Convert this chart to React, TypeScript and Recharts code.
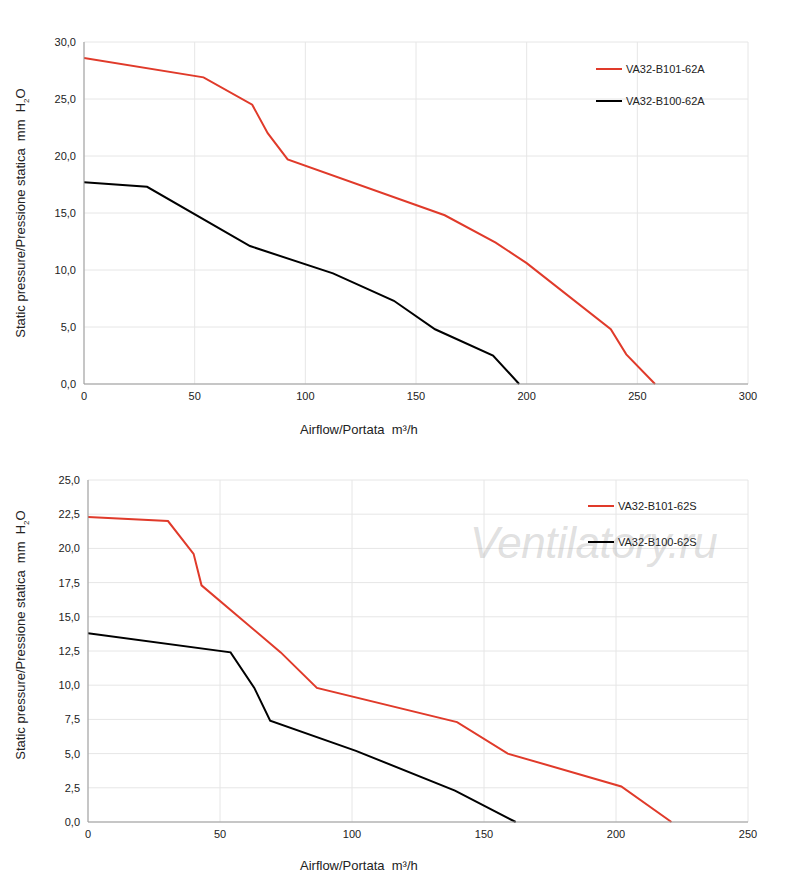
import React from "react";
import { LineChart, Line, XAxis, YAxis, CartesianGrid } from "recharts";

const topRed = [
  { x: 0, y: 28.6 }, { x: 54, y: 26.9 }, { x: 76, y: 24.5 }, { x: 83, y: 22.0 },
  { x: 92, y: 19.7 }, { x: 163, y: 14.8 }, { x: 186, y: 12.4 }, { x: 200, y: 10.6 },
  { x: 238, y: 4.8 }, { x: 245, y: 2.6 }, { x: 258, y: 0 },
];
const topBlack = [
  { x: 0, y: 17.7 }, { x: 28.5, y: 17.3 }, { x: 75, y: 12.1 }, { x: 112.5, y: 9.7 },
  { x: 140, y: 7.3 }, { x: 158.6, y: 4.8 }, { x: 184.8, y: 2.5 }, { x: 196.6, y: 0 },
];
const botRed = [
  { x: 0, y: 22.3 }, { x: 30.3, y: 22.0 }, { x: 40, y: 19.6 }, { x: 43, y: 17.3 },
  { x: 73, y: 12.4 }, { x: 86.7, y: 9.8 }, { x: 139.8, y: 7.3 }, { x: 159, y: 5.0 },
  { x: 202, y: 2.6 }, { x: 221, y: 0 },
];
const botBlack = [
  { x: 0, y: 13.8 }, { x: 54, y: 12.4 }, { x: 63, y: 9.8 }, { x: 69, y: 7.4 },
  { x: 101.5, y: 5.2 }, { x: 139, y: 2.3 }, { x: 162, y: 0 },
];
const topXTicks = [0, 50, 100, 150, 200, 250, 300];
const topYTicks = [0, 5, 10, 15, 20, 25, 30];
const botXTicks = [0, 50, 100, 150, 200, 250];
const botYTicks = [0, 2.5, 5, 7.5, 10, 12.5, 15, 17.5, 20, 22.5, 25];
const topNames = ["VA32-B101-62A", "VA32-B100-62A"];
const botNames = ["VA32-B101-62S", "VA32-B100-62S"];

const RED = "#e03a2a";
const FONT = "'Liberation Sans', Arial, sans-serif";
const fmt = (v: number) => v.toFixed(1).replace(".", ",");
const tick = { fill: "#222", fontSize: 11, fontFamily: FONT };

function Chart({ red, black, xTicks, yTicks, xMax, yMax, yW, height, margin }: any) {
  return (
    <LineChart width={800} height={height} margin={margin}>
      <CartesianGrid stroke="#e6e6e6" />
      <XAxis type="number" dataKey="x" domain={[0, xMax]} ticks={xTicks} tick={tick}
        stroke="#999" tickLine={false} height={30} allowDataOverflow />
      <YAxis type="number" dataKey="y" domain={[0, yMax]} ticks={yTicks} tick={tick}
        tickFormatter={fmt} stroke="#999" tickLine={false} width={yW} />
      <Line data={red} dataKey="y" stroke={RED} strokeWidth={2} dot={false} isAnimationActive={false} />
      <Line data={black} dataKey="y" stroke="#000" strokeWidth={2} dot={false} isAnimationActive={false} />
    </LineChart>
  );
}

const abs = (s: any): React.CSSProperties => ({ position: "absolute", fontFamily: FONT, color: "#222", whiteSpace: "nowrap", ...s });

function Legend({ names, x, y1, y2 }: any) {
  return (
    <>
      {[y1, y2].map((y: number, i: number) => (
        <div key={i} style={abs({ left: x, top: y - 7, fontSize: 11, display: "flex", alignItems: "center" })}>
          <span style={{ display: "inline-block", width: 26, height: 2, background: i ? "#000" : RED, marginRight: 4 }} />
          {names[i]}
        </div>
      ))}
    </>
  );
}

function YLabel({ cy }: any) {
  return (
    <div style={abs({ left: 22, top: cy, fontSize: 13, transform: "translate(-50%,-50%) rotate(-90deg)" })}>
      Static pressure/Pressione statica&nbsp; mm&nbsp; H<sub style={{ fontSize: 8 }}>2</sub>O
    </div>
  );
}

export default function App() {
  return (
    <div style={{ position: "absolute", left: 0, top: 0, width: 800, height: 890, background: "#fff" }}>
      <Chart red={topRed} black={topBlack} xTicks={topXTicks} yTicks={topYTicks} xMax={300} yMax={30}
        yW={84} height={440} margin={{ top: 42, right: 52, left: 0, bottom: 26 }} />
      <div style={{ position: "absolute", left: 0, top: 440 }}>
        <Chart red={botRed} black={botBlack} xTicks={botXTicks} yTicks={botYTicks} xMax={250} yMax={25}
          yW={88} height={450} margin={{ top: 40, right: 52, left: 0, bottom: 38 }} />
      </div>
      <div style={abs({ left: 470, top: 518, fontSize: 44, fontStyle: "italic", color: "rgba(175,175,175,0.4)", letterSpacing: -0.5 })}>
        Ventilatory.ru
      </div>
      <Legend names={topNames} x={596} y1={70} y2={102} />
      <Legend names={botNames} x={588} y1={507} y2={543} />
      <div style={abs({ left: 300, top: 422, fontSize: 13 })}>Airflow/Portata&nbsp; m³/h</div>
      <div style={abs({ left: 300, top: 858, fontSize: 13 })}>Airflow/Portata&nbsp; m³/h</div>
      <YLabel cy={213} />
      <YLabel cy={635} />
    </div>
  );
}
